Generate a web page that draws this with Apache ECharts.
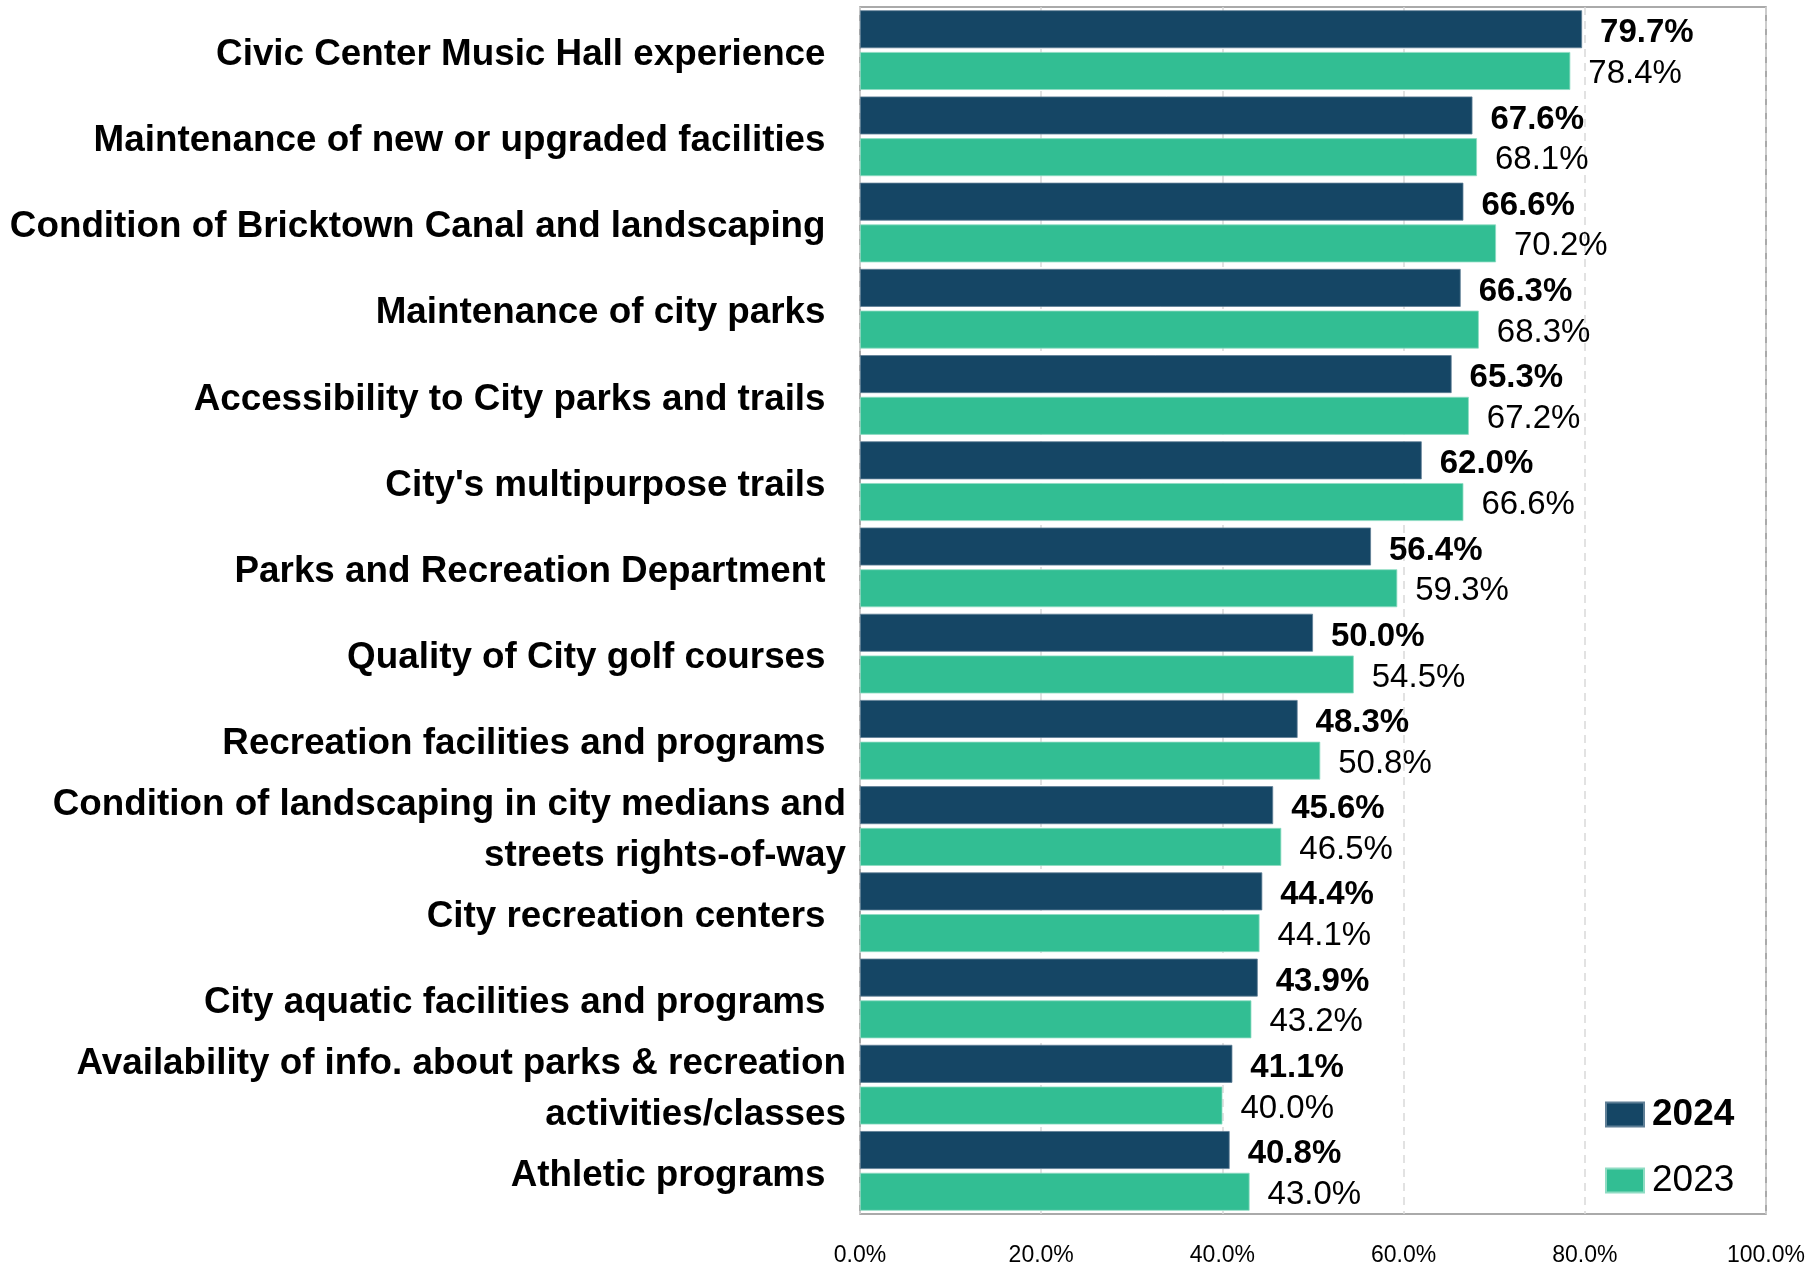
<!DOCTYPE html>
<html>
<head>
<meta charset="utf-8">
<title>Parks and recreation satisfaction</title>
<script src="https://cdn.jsdelivr.net/npm/echarts@6/dist/echarts.min.js"></script>
<style>
  html, body { margin: 0; padding: 0; background: #fff; }
  #chart { width: 1819px; height: 1267px; }
</style>
</head>
<body>
<div id="chart"></div>
<script>
// categories, top to bottom
const categories = [
  'Civic Center Music Hall experience',
  'Maintenance of new or upgraded facilities',
  'Condition of Bricktown Canal and landscaping',
  'Maintenance of city parks',
  'Accessibility to City parks and trails',
  "City's multipurpose trails",
  'Parks and Recreation Department',
  'Quality of City golf courses',
  'Recreation facilities and programs',
  'Condition of landscaping in city medians and\nstreets rights-of-way',
  'City recreation centers',
  'City aquatic facilities and programs',
  'Availability of info. about parks & recreation\nactivities/classes',
  'Athletic programs',
]
const values2024 = [79.7, 67.6, 66.6, 66.3, 65.3, 62.0, 56.4, 50.0, 48.3, 45.6, 44.4, 43.9, 41.1, 40.8]
const values2023 = [78.4, 68.1, 70.2, 68.3, 67.2, 66.6, 59.3, 54.5, 50.8, 46.5, 44.1, 43.2, 40.0, 43.0]
const xTicks = [0, 20, 40, 60, 80, 100]

const FONT = '"Liberation Sans", Arial, sans-serif'
const pct = (v) => Number(v).toFixed(1) + '%'

// first line gets a little top padding to sit like the original, single lines get a trailing gap
function catLabel(name) {
  const lines = name.split('\n')
  if (lines.length === 1) return '{a|' + name + '  }'
  return lines.map((l, i) => (i === 0 ? '{a|' : '{b|') + l + '}').join('\n')
}

const catText = { fontFamily: FONT, fontSize: 36.8, fontWeight: 'bold', color: '#000', height: 51 }

const chart = echarts.init(document.getElementById('chart'))
const option = {
  animation: false,
  textStyle: { fontFamily: FONT },
  color: ['#154665', '#32be93'],
  grid: {
    left: 860,
    top: 7,
    right: 53,
    bottom: 47,
    show: true,
    borderColor: '#8f8f8f',
    borderWidth: 1.5,
  },
  legend: {
    orient: 'vertical',
    left: 1600,
    top: 1091,
    itemWidth: 38,
    itemHeight: 24,
    itemGap: 29,
    icon: 'rect',
    data: ['2024', '2023'],
    formatter: (name) => (name === '2024' ? '{b|' + name + '}' : '{n|' + name + '}'),
    textStyle: {
      rich: {
        b: { fontFamily: FONT, fontSize: 37, fontWeight: 'bold', color: '#000', padding: [0, 0, 0, 3], lineHeight: 42 },
        n: { fontFamily: FONT, fontSize: 37, color: '#000', padding: [0, 0, 0, 3], lineHeight: 42 },
      },
    },
  },
  xAxis: {
    type: 'value',
    min: xTicks[0],
    max: xTicks[xTicks.length - 1],
    interval: xTicks[1] - xTicks[0],
    axisLine: { show: false },
    axisTick: { show: false },
    axisLabel: {
      margin: 30,
      fontSize: 23,
      color: '#000',
      formatter: pct,
    },
    splitLine: {
      show: true,
      lineStyle: { color: '#d9d9d9', type: [8, 6], width: 1.5 },
    },
  },
  yAxis: {
    type: 'category',
    inverse: true,
    data: categories,
    axisLine: { show: false },
    axisTick: { show: false },
    axisLabel: {
      interval: 0,
      hideOverlap: false,
      margin: 14,
      formatter: catLabel,
      rich: {
        a: Object.assign({}, catText, { padding: [9, 0, 0, 0] }),
        b: catText,
      },
    },
  },
  series: [
    {
      name: '2024',
      type: 'bar',
      data: values2024,
      barGap: '10%',
      barCategoryGap: '7.6%',
      itemStyle: { borderColor: '#5f7f96', borderWidth: 0.8 },
      label: {
        show: true,
        position: 'right',
        distance: 18,
        offset: [0, 4],
        fontSize: 33,
        fontWeight: 'bold',
        color: '#000',
        formatter: (p) => pct(p.value),
      },
    },
    {
      name: '2023',
      type: 'bar',
      data: values2023,
      barGap: '10%',
      barCategoryGap: '7.6%',
      itemStyle: { borderColor: '#8fdcc3', borderWidth: 0.8 },
      label: {
        show: true,
        position: 'right',
        distance: 18,
        offset: [0, 3],
        fontSize: 33,
        color: '#000',
        formatter: (p) => pct(p.value),
      },
    },
  ],
}
chart.setOption(option)
</script>
</body>
</html>
